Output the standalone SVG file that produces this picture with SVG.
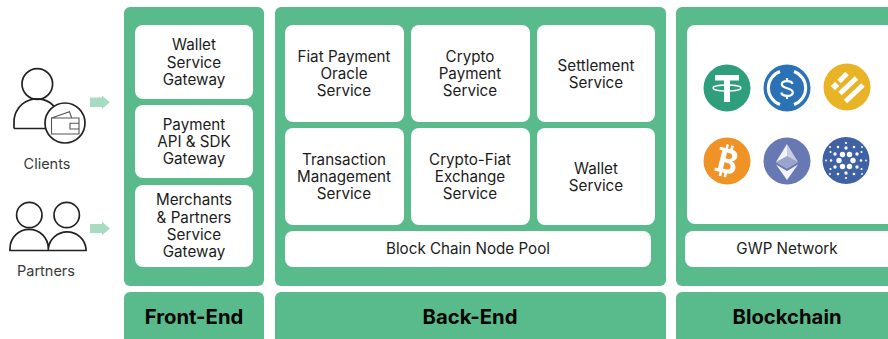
<svg xmlns="http://www.w3.org/2000/svg" width="888" height="339" viewBox="0 0 888 339">
<style>
.p{fill:#59bb8b}
.b{fill:#fff}
text{font-family:Inter,"Liberation Sans",sans-serif;text-anchor:middle;fill:#1c1c1c}
.t{font-size:15.2px}
.h{font-size:20.300px;font-weight:700;fill:#050505}
.l{font-size:14.500px;fill:#3a3a3a}
.i{fill:none;stroke:#222;stroke-width:1.700}
.wl{fill:none;stroke:#555;stroke-width:1.100}
.w{fill:#fff}
.a{fill:#a8dcc2}
</style>
<rect width="888" height="339" fill="#fff"/>
<g id="panel-front"><rect class="p" x="124" y="7" width="140" height="279" rx="6"/></g>
<g id="panel-back"><rect class="p" x="275" y="7" width="391" height="279" rx="6"/></g>
<g id="panel-chain"><rect class="p" x="676" y="7" width="222" height="279" rx="6"/></g>
<g id="label-front"><rect class="p" x="124" y="292" width="140" height="60" rx="6"/><text class="h" x="194" y="324">Front-End</text></g>
<g id="label-back"><rect class="p" x="275" y="292" width="391" height="60" rx="6"/><text class="h" x="470" y="324">Back-End</text></g>
<g id="label-chain"><rect class="p" x="676" y="292" width="222" height="60" rx="6"/><text class="h" x="787" y="324">Blockchain</text></g>

<g id="wallet-gw"><rect class="b" x="135" y="25" width="118" height="74" rx="8"/><text class="t" x="194" y="50">Wallet</text><text class="t" x="194" y="67.500">Service</text><text class="t" x="194" y="85">Gateway</text></g>
<g id="api-gw"><rect class="b" x="135" y="105" width="118" height="73" rx="8"/><text class="t" x="194" y="130">Payment</text><text class="t" x="194" y="147">API &amp; SDK</text><text class="t" x="194" y="164">Gateway</text></g>
<g id="merchant-gw"><rect class="b" x="135" y="185" width="118" height="82" rx="8"/><text class="t" x="194" y="205">Merchants</text><text class="t" x="194" y="222.500">&amp; Partners</text><text class="t" x="194" y="240">Service</text><text class="t" x="194" y="257">Gateway</text></g>

<g id="fiat"><rect class="b" x="285" y="25" width="119" height="97" rx="8"/><text class="t" x="344" y="62">Fiat Payment</text><text class="t" x="344" y="79">Oracle</text><text class="t" x="344" y="96">Service</text></g>
<g id="crypto"><rect class="b" x="411" y="25" width="119" height="97" rx="8"/><text class="t" x="470" y="62">Crypto</text><text class="t" x="470" y="79">Payment</text><text class="t" x="470" y="96">Service</text></g>
<g id="settlement"><rect class="b" x="537" y="25" width="118" height="97" rx="8"/><text class="t" x="596" y="71">Settlement</text><text class="t" x="596" y="88">Service</text></g>
<g id="txn"><rect class="b" x="285" y="128" width="119" height="97" rx="8"/><text class="t" x="344" y="165">Transaction</text><text class="t" x="344" y="182">Management</text><text class="t" x="344" y="199">Service</text></g>
<g id="exchange"><rect class="b" x="411" y="128" width="119" height="97" rx="8"/><text class="t" x="470" y="165">Crypto-Fiat</text><text class="t" x="470" y="182">Exchange</text><text class="t" x="470" y="199">Service</text></g>
<g id="wallet-svc"><rect class="b" x="537" y="128" width="118" height="97" rx="8"/><text class="t" x="596" y="173.500">Wallet</text><text class="t" x="596" y="190.500">Service</text></g>
<g id="nodepool"><rect class="b" x="285" y="231" width="366" height="36" rx="8"/><text class="t" x="468" y="254">Block Chain Node Pool</text></g>
<g id="coins-panel"><rect class="b" x="687" y="25" width="212" height="199" rx="8"/></g>
<g id="gwp"><rect class="b" x="685" y="231" width="214" height="36" rx="8"/><text class="t" x="787" y="254">GWP Network</text></g>

<g id="coin-usdt"><circle cx="727" cy="88" r="23.500" fill="#2f9f7b"/><path class="w" d="M715 75h24v5.500h-9v5.200h-6v-5.200h-9z"/><rect class="w" x="724" y="80" width="6" height="22"/><ellipse cx="727" cy="88" rx="14" ry="3" fill="none" stroke="#fff" stroke-width="1.300"/></g>
<g id="coin-usdc"><circle cx="787" cy="88" r="23.500" fill="#2a71b5"/><path d="M780 71.500a17.500 17.500 0 0 0 0 33M794 71.500a17.500 17.500 0 0 1 0 33" fill="none" stroke="#fff" stroke-width="3"/><path d="M792.500 84C792 80 781.800 80 781.800 84.300C781.800 89.500 792.800 87 792.800 92.500C792.800 97 782 97 781.300 92.500M787 78v4M787 95v4" fill="none" stroke="#fff" stroke-width="2.200"/></g>
<g id="coin-busd"><circle cx="847" cy="87" r="23.500" fill="#e8b325"/><g fill="none" stroke="#fff" stroke-width="5"><path d="M839 81.500L847 73.500M840 93.500L856.500 78M845.500 101.500L863 85"/><path d="M832.800 88.200L837.200 83.800" stroke-width="6"/></g></g>
<g id="coin-btc"><circle cx="727" cy="161" r="23.500" fill="#f09327"/><g transform="translate(726 160.500) rotate(14)"><path class="w" fill-rule="evenodd" d="M-9 -12H3C8 -12 10 -9 10 -6C10 -3 8 -1 6 -.5C9 0 11 3 11 6C11 10 8 12.500 3 12.500H-9V9.500H-6V-9H-9ZM-1 -8V-2H2C4 -2 5 -3.500 5 -5C5 -6.500 4 -8 2 -8ZM-1 2V8.500H3C5 8.500 6 7 6 5.200C6 3.500 5 2 3 2Z"/><path class="w" d="M-3.500 -16h2.600v5h-2.600zM1.500 -16h2.600v5h-2.600zM-3.500 11.500h2.600v5h-2.600zM1.500 11.500h2.600v5h-2.600z"/></g></g>
<g id="coin-eth"><circle cx="787" cy="161" r="23.500" fill="#6878b2"/><path d="M787 144l-11 18 11 6.500z" fill="#f2f3f8"/><path d="M787 144l11 18-11 6.500z" fill="#c9cde3"/><path d="M787 156l-11 6 11 6.500 11-6.500z" fill="#9aa3cc"/><path d="M776 164.500l11 15.500v-9zM798 164.500l-11 15.500v-9z" fill="#f2f3f8"/></g>
<g id="coin-ada"><circle cx="846" cy="160.500" r="23.500" fill="#3f62a5"/>
<g fill="#fff">
<circle cx="839" cy="160.500" r="2.700"/><circle cx="853" cy="160.500" r="2.700"/><circle cx="842.500" cy="154.500" r="2.700"/><circle cx="849.500" cy="154.500" r="2.700"/><circle cx="842.500" cy="166.500" r="2.700"/><circle cx="849.500" cy="166.500" r="2.700"/>
<circle cx="846" cy="148" r="1.700"/><circle cx="846" cy="173" r="1.700"/><circle cx="835" cy="154" r="1.700"/><circle cx="857" cy="154" r="1.700"/><circle cx="835" cy="167" r="1.700"/><circle cx="857" cy="167" r="1.700"/>
<circle cx="846" cy="143" r="1.100"/><circle cx="846" cy="178" r="1.100"/><circle cx="830.500" cy="152" r="1.100"/><circle cx="861.500" cy="152" r="1.100"/><circle cx="830.500" cy="169" r="1.100"/><circle cx="861.500" cy="169" r="1.100"/>
<circle cx="831" cy="160.500" r="1.300"/><circle cx="861" cy="160.500" r="1.300"/><circle cx="838" cy="147" r="1.300"/><circle cx="854" cy="147" r="1.300"/><circle cx="838" cy="174" r="1.300"/><circle cx="854" cy="174" r="1.300"/>
<circle cx="830" cy="147" r=".9"/><circle cx="862" cy="147" r=".9"/><circle cx="830" cy="174" r=".9"/><circle cx="862" cy="174" r=".9"/><circle cx="826" cy="160.500" r=".9"/><circle cx="866" cy="160.500" r=".9"/>
</g></g>

<g id="clients">
<circle class="i" cx="37.300" cy="84" r="15.300"/>
<path class="i" d="M14 128.500v-6a23 23 0 0 1 41-15M14 128.500h33"/>
<circle class="i" cx="65" cy="123" r="20" style="fill:#fff"/>
<path class="wl" d="M51.500 118l18-6.300 2.200 6.300M51.500 118h27.500v16h-27.500zM79 123.300h-9v5.700h9"/>
<text class="l" x="47" y="169">Clients</text>
</g>
<g id="partners">
<circle class="i" cx="29.300" cy="215" r="12.700"/>
<circle class="i" cx="66.700" cy="215" r="12.700"/>
<path class="i" d="M10 250.500v-2a19 19 0 0 1 38.300 0v2zM48.300 250.500v-2a19 19 0 0 1 37.700 0v2z"/>
<text class="l" x="46" y="276">Partners</text>
</g>
<g id="connectors">
<path class="a" d="M90 97.500h12v-2l8 6.800-8 6.800v-2h-12z"/>
<path class="a" d="M90 224h12v-2.300l8 6.800-8 6.800v-2.300h-12z"/>
</g>
</svg>
